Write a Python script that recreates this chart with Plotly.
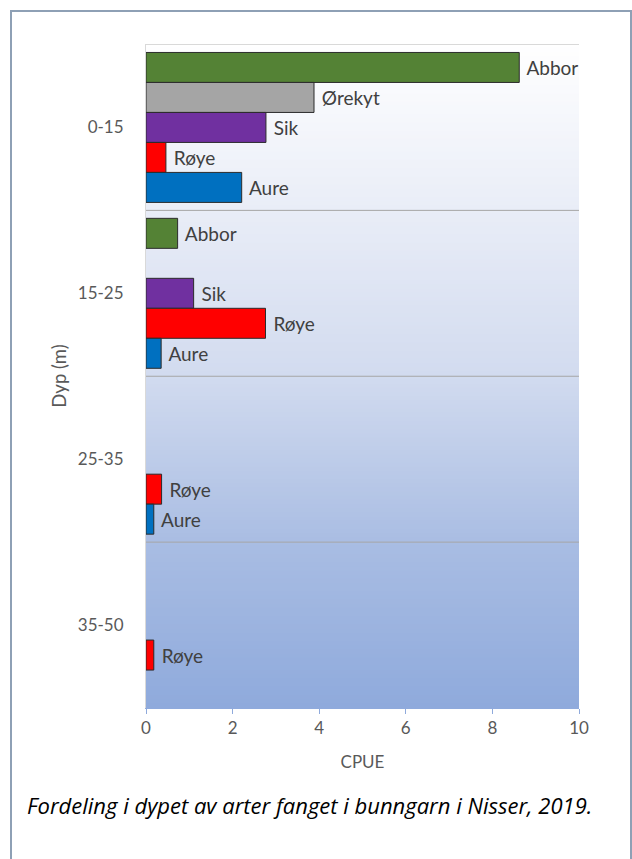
import plotly.graph_objects as go

depths = ["0-15", "15-25", "25-35", "35-50"]
species = ["Abbor", "Ørekyt", "Sik", "Røye", "Aure"]
abbor = [8.62, 0.73, None, None]
orekyt = [3.88, None, None, None]
sik = [2.77, 1.10, None, None]
roye = [0.46, 2.76, 0.36, 0.18]
aure = [2.21, 0.35, 0.18, None]
series = [abbor, orekyt, sik, roye, aure]
colors = ["#548235", "#A5A5A5", "#7030A0", "#FF0000", "#0070C0"]
x_ticks = [0, 2, 4, 6, 8, 10]

FONT = "Lato"
GREY = "#595959"

fig = go.Figure()
for name, vals, col in zip(species, series, colors):
    fig.add_trace(go.Bar(
        y=depths, x=vals, name=name, orientation="h",
        marker=dict(color=col, line=dict(color="#2b2b2b", width=1)),
        text=[(" " + name) if v is not None else "" for v in vals],
        textposition="outside", constraintext="none", cliponaxis=False,
        textfont=dict(family=FONT, size=19, color="#404040"),
        hoverinfo="skip",
    ))

# gradient background (stripes)
stops = [(0.0, (255, 255, 255)), (0.25, (233, 237, 247)), (0.5, (210, 219, 239)),
         (0.75, (169, 189, 227)), (1.0, (143, 170, 220))]

def col_at(t):
    for (t0, c0), (t1, c1) in zip(stops[:-1], stops[1:]):
        if t <= t1:
            f = (t - t0) / (t1 - t0)
            return "rgb(%d,%d,%d)" % tuple(round(a + (b - a) * f) for a, b in zip(c0, c1))
    return "rgb(%d,%d,%d)" % stops[-1][1]

shapes = []
N = 160
for i in range(N):
    t = (i + 0.5) / N
    shapes.append(dict(type="rect", xref="paper", yref="paper", x0=0, x1=1,
                       y0=1 - (i + 1) / N - 0.001, y1=1 - i / N + 0.001,
                       fillcolor=col_at(t), line=dict(width=0), layer="below"))
# category boundary lines
for b in [0.5, 1.5, 2.5]:
    shapes.append(dict(type="line", xref="paper", yref="y", x0=0, x1=1, y0=b, y1=b,
                       line=dict(color="#A6A6A6", width=1), layer="below"))
shapes.append(dict(type="line", xref="paper", yref="y", x0=0, x1=1, y0=-0.5, y1=-0.5,
                   line=dict(color="#D9D9D9", width=1), layer="below"))
# outer frame
shapes.append(dict(type="rect", xref="paper", yref="paper",
                   x0=(11 - 146) / 433, x1=(631 - 146) / 433,
                   y0=(708 - 880) / 664, y1=(708 - 11) / 664,
                   line=dict(color="#8EA0B5", width=2), fillcolor="rgba(0,0,0,0)", layer="below"))

fig.update_layout(
    width=632, height=859,
    margin=dict(l=146, r=53, t=44, b=151),
    paper_bgcolor="white", plot_bgcolor="rgba(0,0,0,0)",
    barmode="group", bargap=0.096, bargroupgap=0,
    showlegend=False,
    shapes=shapes,
    font=dict(family=FONT, color=GREY),
    xaxis=dict(range=[0, 10], tickvals=x_ticks, ticks="outside", ticklen=5,
               tickcolor="#8FAADC", showline=True, linecolor="#8FAADC", linewidth=1,
               showgrid=False, zeroline=False,
               tickfont=dict(family=FONT, size=17, color=GREY),
               title=dict(text="CPUE", font=dict(family=FONT, size=17, color=GREY), standoff=18)),
    yaxis=dict(categoryorder="array", categoryarray=depths, autorange="reversed",
               ticks="outside", ticklen=18, tickcolor="rgba(0,0,0,0)",
               showline=True, linecolor="#D9D9D9", showgrid=False, zeroline=False,
               tickfont=dict(family=FONT, size=17, color=GREY),
               title=dict(text="Dyp (m)", font=dict(family=FONT, size=18.5, color=GREY), standoff=6)),
    annotations=[dict(text="<i>Fordeling i dypet av arter fanget i bunngarn i Nisser, 2019.</i>",
                      xref="paper", yref="paper", x=(25 - 146) / 433, y=(708 - 805) / 664,
                      xanchor="left", yanchor="middle", showarrow=False,
                      font=dict(family="Open Sans", size=22, color="#000000"))],
)

fig.write_html("out.html")
